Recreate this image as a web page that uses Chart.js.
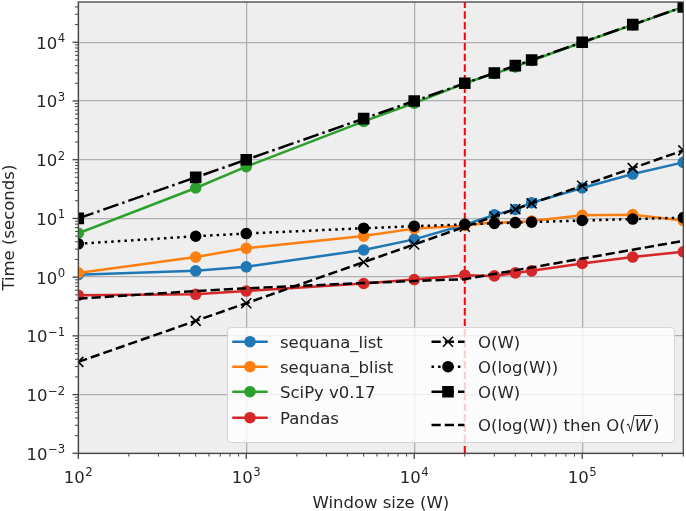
<!DOCTYPE html>
<html>
<head>
<meta charset="utf-8">
<script src="https://cdn.jsdelivr.net/npm/chart.js@4.4.0/dist/chart.umd.min.js"></script>
<style>
  html, body { margin: 0; padding: 0; background: #fff; }
  #chart { display: block; }
</style>
</head>
<body>
<canvas id="chart" width="686" height="511"></canvas>
<script>
// values
const windowSizes = [100, 500, 1000, 5000, 10000, 20000, 30000, 40000, 50000, 100000, 200000, 400000];

const sequanaList  = [1.1, 1.28, 1.5, 2.9, 4.4, 7.8, 11.5, 14.2, 18.5, 33, 57, 90];
const sequanaBlist = [1.18, 2.2, 3.1, 5.0, 6.7, 7.6, 8.6, 8.5, 9.0, 11.3, 11.6, 9.2];
const scipy        = [5.6, 33, 76, 450, 920, 2000, 2950, 3800, 4900, 9900, 19800, 40000];
const pandas       = [0.49, 0.51, 0.58, 0.78, 0.91, 1.08, 1.05, 1.18, 1.28, 1.71, 2.2, 2.7];

const orderW      = [0.036, 0.18, 0.36, 1.8, 3.6, 7.2, 10.8, 14.4, 18, 36, 72, 144];
const orderLogW   = [3.7, 4.97, 5.53, 6.81, 7.37, 7.92, 8.25, 8.48, 8.66, 9.21, 9.76, 10.3];
const orderWScipy = [10, 50, 100, 500, 1000, 2000, 3000, 4000, 5000, 10000, 20000, 40000];
const orderLogSqrt = [0.43, 0.58, 0.645, 0.795, 0.86, 0.925, 1.13, 1.31, 1.46, 2.07, 2.93, 4.14];

const switchPoint = 20000;

const xMin = 100, xMax = 400000;
const yMin = 1e-3, yMax = 48500;
const xTickExponents = [2, 3, 4, 5];
const yTickExponents = [-3, -2, -1, 0, 1, 2, 3, 4];

const FONT = '"DejaVu Sans", sans-serif';
const TEXT = '#262626';
const SPINE = '#444444';
const GRID = '#b0b0b0';

const BLUE = '#1f77b4', ORANGE = '#ff7f0e', GREEN = '#2ca02c', RED = '#d62728';
const DASHED = [9.25, 4], DOTTED = [2.5, 4.1], DASHDOT = [16, 4, 2.5, 4];

function pts(ys) {
  return windowSizes.map((x, i) => ({ x: x, y: ys[i] }));
}

function series(label, ys, color, dash, marker) {
  const radius = { circle: 5, rect: 7.07, crossRot: 7.07 }[marker] || 0;
  return {
    label: label,
    data: pts(ys),
    borderColor: color,
    borderWidth: 2.5,
    borderDash: dash,
    borderJoinStyle: 'round',
    pointStyle: marker || 'circle',
    pointRadius: radius,
    pointBackgroundColor: color,
    pointBorderColor: color,
    pointBorderWidth: 1.6,
    pointHoverRadius: radius,
    tension: 0,
    fill: false,
    clip: 0,
  };
}

const datasets = [
  series('sequana_list', sequanaList, BLUE, [], 'circle'),
  series('sequana_blist', sequanaBlist, ORANGE, [], 'circle'),
  series('SciPy v0.17', scipy, GREEN, [], 'circle'),
  series('Pandas', pandas, RED, [], 'circle'),
  series('O(W)', orderW, '#000', DASHED, 'crossRot'),
  series('O(log(W))', orderLogW, '#000', DOTTED, 'circle'),
  series('O(W)', orderWScipy, '#000', DASHDOT, 'rect'),
  series('O(log(W)) then O(\u221AW)', orderLogSqrt, '#000', DASHED, null),
];
// later series drawn on top, like matplotlib
datasets.forEach((d, i) => { d.order = -i; });

datasets.push({
  label: '',
  data: [{ x: switchPoint, y: yMin }, { x: switchPoint, y: yMax }],
  borderColor: '#ff0000',
  borderWidth: 2,
  borderDash: [7.4, 3.2],
  pointRadius: 0,
  clip: 0,
  order: 5,
});

function isDecade(v) {
  const l = Math.log10(v);
  return Math.abs(l - Math.round(l)) < 1e-6;
}

function logTicks(min, max) {
  const out = [];
  for (let e = Math.floor(Math.log10(min)); e <= Math.ceil(Math.log10(max)); e++) {
    for (let m = 1; m < 10; m++) {
      const v = m * Math.pow(10, e);
      if (v >= min * 0.999999 && v <= max * 1.000001) out.push(v);
    }
  }
  return out;
}

function drawPow(ctx, exp, x, y, align) {
  const base = '10';
  const es = exp < 0 ? '\u2212' + (-exp) : String(exp);
  ctx.font = '16.5px ' + FONT;
  const wb = ctx.measureText(base).width;
  ctx.font = '11.7px ' + FONT;
  const we = ctx.measureText(es).width;
  const total = wb + we + 0.5;
  const x0 = align === 'center' ? x - total / 2 : x - total;
  ctx.textAlign = 'left';
  ctx.textBaseline = 'alphabetic';
  ctx.font = '16.5px ' + FONT;
  ctx.fillText(base, x0, y);
  ctx.font = '11.7px ' + FONT;
  ctx.fillText(es, x0 + wb + 0.5, y - 6.5);
}

const backgroundPlugin = {
  id: 'axesBackground',
  beforeDraw(chart) {
    const { ctx, chartArea: a } = chart;
    ctx.save();
    ctx.fillStyle = '#ffffff';
    ctx.fillRect(0, 0, chart.width, chart.height);
    ctx.fillStyle = '#eeeeee';
    ctx.fillRect(a.left, a.top, a.right - a.left, a.bottom - a.top);
    ctx.restore();
  },
};

const axesPlugin = {
  id: 'mplAxes',
  afterDraw(chart) {
    const { ctx, chartArea: a } = chart;
    const xs = chart.scales.x, ys = chart.scales.y;
    ctx.save();
    ctx.strokeStyle = SPINE;
    // tick marks
    logTicks(xMin, xMax).forEach(v => {
      const px = xs.getPixelForValue(v);
      const major = isDecade(v);
      ctx.lineWidth = major ? 1.3 : 1;
      ctx.beginPath();
      ctx.moveTo(px, a.bottom);
      ctx.lineTo(px, a.bottom + (major ? 5.8 : 3.3));
      ctx.stroke();
    });
    logTicks(yMin, yMax).forEach(v => {
      const py = ys.getPixelForValue(v);
      const major = isDecade(v);
      ctx.lineWidth = major ? 1.3 : 1;
      ctx.beginPath();
      ctx.moveTo(a.left, py);
      ctx.lineTo(a.left - (major ? 5.8 : 3.3), py);
      ctx.stroke();
    });
    // spines
    ctx.lineWidth = 1.3;
    ctx.strokeRect(a.left, a.top, a.right - a.left, a.bottom - a.top);

    // tick labels
    ctx.fillStyle = TEXT;
    xTickExponents.forEach(e => {
      drawPow(ctx, e, xs.getPixelForValue(Math.pow(10, e)), a.bottom + 29.5, 'center');
    });
    yTickExponents.forEach(e => {
      drawPow(ctx, e, a.left - 13, ys.getPixelForValue(Math.pow(10, e)) + 6.5, 'right');
    });

    // axis titles
    ctx.font = '16.5px ' + FONT;
    ctx.textAlign = 'center';
    ctx.textBaseline = 'alphabetic';
    ctx.fillText('Window size (W)', (a.left + a.right) / 2, 507.5);
    ctx.translate(14, (a.top + a.bottom) / 2);
    ctx.rotate(-Math.PI / 2);
    ctx.fillText('Time (seconds)', 0, 0);
    ctx.restore();
  },
};

function drawMarker(ctx, style, x, y, r, color, bw) {
  ctx.save();
  ctx.setLineDash([]);
  ctx.fillStyle = color;
  ctx.strokeStyle = color;
  ctx.lineWidth = bw;
  ctx.beginPath();
  if (style === 'circle') {
    ctx.arc(x, y, r, 0, Math.PI * 2);
    ctx.fill();
    ctx.stroke();
  } else if (style === 'rect') {
    const s = Math.SQRT1_2 * r;
    ctx.rect(x - s, y - s, 2 * s, 2 * s);
    ctx.fill();
    ctx.stroke();
  } else if (style === 'crossRot') {
    const s = Math.SQRT1_2 * r;
    ctx.moveTo(x - s, y - s); ctx.lineTo(x + s, y + s);
    ctx.moveTo(x - s, y + s); ctx.lineTo(x + s, y - s);
    ctx.stroke();
  }
  ctx.restore();
}

function drawLabel(ctx, text, x, y) {
  ctx.font = '16.5px ' + FONT;
  ctx.textAlign = 'left';
  ctx.textBaseline = 'alphabetic';
  const k = text.indexOf('\u221A');
  if (k < 0) { ctx.fillText(text, x, y); return; }
  const pre = text.slice(0, k), arg = text.charAt(k + 1), post = text.slice(k + 2) || ')';
  ctx.fillText(pre, x, y);
  let cx = x + ctx.measureText(pre).width + 1;
  // radical sign
  ctx.save();
  ctx.strokeStyle = TEXT;
  ctx.lineWidth = 1;
  ctx.beginPath();
  ctx.moveTo(cx, y - 6);
  ctx.lineTo(cx + 1.8, y - 7);
  ctx.lineTo(cx + 4, y + 0.5);
  ctx.lineTo(cx + 7.5, y - 15.5);
  ctx.font = 'italic 16.5px ' + FONT;
  const wa = ctx.measureText(arg).width;
  ctx.lineTo(cx + 7.5 + wa + 2, y - 15.5);
  ctx.stroke();
  ctx.restore();
  ctx.font = 'italic 16.5px ' + FONT;
  ctx.fillText(arg, cx + 8, y);
  cx += 8 + wa + 2;
  ctx.font = '16.5px ' + FONT;
  ctx.fillText(post, cx, y);
}

const legendPlugin = {
  id: 'mplLegend',
  afterDraw(chart) {
    const ctx = chart.ctx;
    ctx.save();
    const bx = 227.5, by = 327.5, bw = 447, bh = 115, r = 4;
    ctx.beginPath();
    ctx.moveTo(bx + r, by);
    ctx.arcTo(bx + bw, by, bx + bw, by + bh, r);
    ctx.arcTo(bx + bw, by + bh, bx, by + bh, r);
    ctx.arcTo(bx, by + bh, bx, by, r);
    ctx.arcTo(bx, by, bx + bw, by, r);
    ctx.closePath();
    ctx.fillStyle = 'rgba(255,255,255,0.8)';
    ctx.fill();
    ctx.strokeStyle = 'rgba(204,204,204,0.8)';
    ctx.lineWidth = 1;
    ctx.stroke();

    const slots = [
      [233.5, 341.7], [233.5, 366.7], [233.5, 391.7], [233.5, 417.7],
      [431.5, 341.7], [431.5, 366.7], [431.5, 391.7], [431.5, 425],
    ];
    const handleLen = 33;
    chart.data.datasets.filter(d => d.label).forEach((d, i) => {
      const [hx, hy] = slots[i];
      ctx.save();
      ctx.strokeStyle = d.borderColor;
      ctx.lineWidth = d.borderWidth;
      ctx.setLineDash(d.borderDash || []);
      ctx.lineCap = d.borderDash && d.borderDash.length ? 'butt' : 'square';
      ctx.beginPath();
      ctx.moveTo(hx, hy);
      ctx.lineTo(hx + handleLen, hy);
      ctx.stroke();
      ctx.restore();
      if (d.pointRadius > 0) {
        drawMarker(ctx, d.pointStyle, hx + handleLen / 2, hy, d.pointRadius, d.pointBackgroundColor, d.pointBorderWidth);
      }
      ctx.fillStyle = TEXT;
      drawLabel(ctx, d.label, hx + handleLen + 13.5, hy + 6);
    });
    ctx.restore();
  },
};

const gridColor = c => (c.tick && isDecade(c.tick.value)) ? GRID : 'rgba(0,0,0,0)';

new Chart(document.getElementById('chart').getContext('2d'), {
  type: 'line',
  data: { datasets: datasets },
  options: {
    responsive: false,
    animation: false,
    devicePixelRatio: 1,
    layout: { autoPadding: false, padding: { left: 0, right: 2.7, top: 2, bottom: 0 } },
    plugins: {
      legend: { display: false },
      tooltip: { enabled: false },
    },
    scales: {
      x: {
        type: 'logarithmic',
        min: xMin,
        max: xMax,
        bounds: 'data',
        afterFit: s => { s.height = 57.7; },
        afterBuildTicks: s => { s.ticks = logTicks(xMin, xMax).map(v => ({ value: v })); },
        ticks: { display: false },
        grid: { color: gridColor, lineWidth: 1.3, drawTicks: false },
        border: { display: false },
      },
      y: {
        type: 'logarithmic',
        min: yMin,
        max: yMax,
        bounds: 'data',
        afterFit: s => { s.width = 78.3; },
        afterBuildTicks: s => { s.ticks = logTicks(yMin, yMax).map(v => ({ value: v })); },
        ticks: { display: false },
        grid: { color: gridColor, lineWidth: 1.3, drawTicks: false },
        border: { display: false },
      },
    },
  },
  plugins: [backgroundPlugin, axesPlugin, legendPlugin],
});
</script>
</body>
</html>
